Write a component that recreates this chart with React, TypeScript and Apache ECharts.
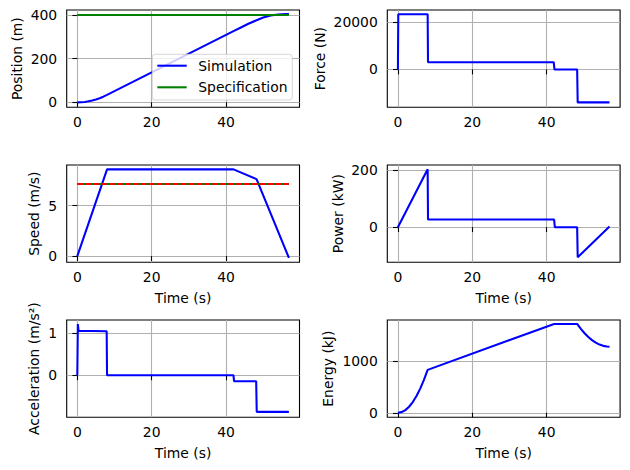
import React, { useEffect, useRef } from 'react';
import * as echarts from 'echarts';

const FONT = "'DejaVu Sans', sans-serif";
const FS = 13.9;

// ---- data ----
const xTicks = [0, 20, 40];
const X_MIN = -2.85;
const X_MAX = 59.75;

const posTime = [0, 1, 2, 3, 4, 5, 6, 7, 8, 42, 44, 46, 48.2, 50, 52, 54, 55, 56, 56.9];
const posSim = [0, 0.5, 2.1, 4.8, 8.6, 13.4, 19.3, 26.2, 34.2, 326, 343, 360, 376, 388.5, 397.5, 402.5, 403.8, 404.5, 404.5];
const posSpecTime = [0, 56.9];
const posSpec = [400, 400];
const posTicks = [0, 200, 400];

const forceTime = [0, 0.1, 8.0, 8.1, 41.9, 42.1, 48.2, 48.35, 56.9];
const forceVal = [0, 23500, 23500, 3100, 3100, 0, 0, -14000, -14000];
const forceTicks = [0, 20000];

const speedTime = [0, 8.0, 42.0, 48.2, 56.9];
const speedVal = [0, 8.59, 8.59, 7.62, -0.17];
const speedSpecTime = [0, 56.9];
const speedSpec = [7.14, 7.14];
const speedAvg = [7.14, 7.14];
const speedTicks = [0, 5];

const powerTime = [0, 8.0, 8.1, 42.0, 42.2, 48.2, 48.35, 56.9];
const powerVal = [0, 202, 26.5, 26.5, 0, 0, -105, 2];
const powerTicks = [0, 200];

const accTime = [0, 0.15, 0.35, 7.9, 8.0, 42.0, 42.15, 48.1, 48.25, 56.9];
const accVal = [0, 1.22, 1.06, 1.05, 0, 0, -0.14, -0.14, -0.87, -0.87];
const accTicks = [0, 1];

const energyTime = [0, 1, 2, 3, 4, 5, 6, 7, 8, 42, 48.2, 49.2, 50.2, 51.2, 52.2, 53.2, 54.2, 55.2, 56.2, 56.9];
const energyVal = [0, 13, 52, 117, 209, 326, 470, 640, 835, 1728, 1728, 1632, 1547, 1474, 1413, 1364, 1327, 1302, 1289, 1286];
const energyTicks = [0, 1000];

const zip = (t: number[], v: number[]) => t.map((x, i) => [x, v[i]]);

// ---- layout ----
const COLS = [66.7, 387.3];
const ROWS = [10, 165, 320];
const GW = 232.8;
const GH = 97.3;
const THIN = 1.1;

const grids = [] as any[];
for (let r = 0; r < 3; r++) {
  for (let c = 0; c < 2; c++) {
    grids.push({
      left: COLS[c], top: ROWS[r], width: GW, height: GH,
      show: true, borderColor: '#000', borderWidth: THIN, backgroundColor: 'transparent',
      containLabel: false, outerBoundsMode: 'none',
    });
  }
}

const fmt = (v: number) => String(v);

function axisCommon(ticks: number[], isX: boolean) {
  return {
    axisLine: { show: false },
    axisTick: { show: true, length: 4.9, lineStyle: { color: '#000', width: THIN }, customValues: ticks },
    axisLabel: {
      show: true, customValues: ticks, margin: isX ? 8 : 9.5, color: '#000',
      fontFamily: FONT, fontSize: FS, formatter: fmt,
    },
    splitLine: { show: true, lineStyle: { color: '#b0b0b0', width: THIN } },
  };
}

const xAxes = [0, 1, 2, 3, 4, 5].map((g) => ({
  type: 'value', gridIndex: g, min: X_MIN, max: X_MAX, splitNumber: 3, ...axisCommon(xTicks, true),
}));

const yDefs = [
  { min: -22.5, max: 423, ticks: posTicks },
  { min: -16100, max: 25300, ticks: forceTicks },
  { min: -0.61, max: 9.02, ticks: speedTicks },
  { min: -122.5, max: 216.8, ticks: powerTicks },
  { min: -1.0, max: 1.317, ticks: accTicks },
  { min: -88, max: 1805, ticks: energyTicks },
];
const yAxes = yDefs.map((d, g) => ({
  type: 'value', gridIndex: g, min: d.min, max: d.max, splitNumber: 2, ...axisCommon(d.ticks, false),
}));

const LW = 2.08;
function line(name: string, data: number[][], idx: number, color: string, extra: any = {}) {
  return {
    name, type: 'line', xAxisIndex: idx, yAxisIndex: idx, data, showSymbol: false, symbol: 'none',
    lineStyle: { color, width: LW, ...(extra.lineStyle || {}) }, itemStyle: { color }, silent: true, z: 3,
  };
}

const series = [
  line('Simulation', zip(posTime, posSim), 0, '#0000ff'),
  line('Specification', zip(posSpecTime, posSpec), 0, '#008000'),
  line('Force', zip(forceTime, forceVal), 1, '#0000ff'),
  line('Speed', zip(speedTime, speedVal), 2, '#0000ff'),
  line('Speed spec', zip(speedSpecTime, speedSpec), 2, '#008000'),
  line('Speed avg', zip(speedSpecTime, speedAvg), 2, '#ff0000', { lineStyle: { type: [5.55, 2.4] } }),
  line('Power', zip(powerTime, powerVal), 3, '#0000ff'),
  line('Acceleration', zip(accTime, accVal), 4, '#0000ff'),
  line('Energy', zip(energyTime, energyVal), 5, '#0000ff'),
];

const rowMid = ROWS.map((r) => r + GH / 2);
const colMid = COLS.map((c) => c + GW / 2);
const txt = (text: string, x: number, y: number, rot = 0) => ({
  type: 'text', x, y, rotation: rot, silent: true, z: 10,
  style: { text, fontFamily: FONT, fontSize: FS, fill: '#000', textAlign: 'center', textVerticalAlign: 'middle' },
});

const graphic = [
  txt('Position (m)', 17, rowMid[0], Math.PI / 2),
  txt('Force (N)', 320, rowMid[0], Math.PI / 2),
  txt('Speed (m/s)', 34, rowMid[1], Math.PI / 2),
  txt('Power (kW)', 338, rowMid[1], Math.PI / 2),
  txt('Acceleration (m/s²)', 34, rowMid[2], Math.PI / 2),
  txt('Energy (kJ)', 328, rowMid[2], Math.PI / 2),
  txt('Time (s)', colMid[0], 297.5),
  txt('Time (s)', colMid[1], 297.5),
  txt('Time (s)', colMid[0], 452.8),
  txt('Time (s)', colMid[1], 452.8),
  // legend
  {
    type: 'rect', z: 20, silent: true,
    shape: { x: 152.3, y: 54.3, width: 140, height: 45.7, r: 3 },
    style: { fill: 'rgba(255,255,255,0.8)', stroke: 'rgba(204,204,204,0.8)', lineWidth: 1 },
  },
  { type: 'line', z: 21, silent: true, shape: { x1: 157.3, y1: 65.7, x2: 186.7, y2: 65.7 }, style: { stroke: '#0000ff', lineWidth: LW } },
  { type: 'line', z: 21, silent: true, shape: { x1: 157.3, y1: 87.3, x2: 186.7, y2: 87.3 }, style: { stroke: '#008000', lineWidth: LW } },
  {
    type: 'text', x: 198.3, y: 65.7, z: 21, silent: true,
    style: { text: 'Simulation', fontFamily: FONT, fontSize: FS, fill: '#000', textAlign: 'left', textVerticalAlign: 'middle' },
  },
  {
    type: 'text', x: 198.3, y: 87.3, z: 21, silent: true,
    style: { text: 'Specification', fontFamily: FONT, fontSize: FS, fill: '#000', textAlign: 'left', textVerticalAlign: 'middle' },
  },
];

const option = {
  animation: false,
  backgroundColor: '#fff',
  grid: grids,
  xAxis: xAxes,
  yAxis: yAxes,
  series,
  graphic,
};

export default function App() {
  const ref = useRef<HTMLDivElement>(null);
  useEffect(() => {
    document.body.style.margin = '0';
    const chart = echarts.init(ref.current!, null, { renderer: 'svg' });
    chart.setOption(option as any);
    return () => chart.dispose();
  }, []);
  return <div ref={ref} style={{ width: 630, height: 470 }} />;
}
